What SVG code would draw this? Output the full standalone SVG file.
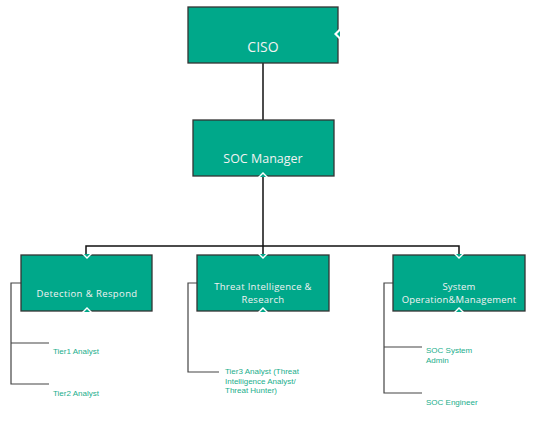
<svg xmlns="http://www.w3.org/2000/svg" width="545" height="422" viewBox="0 0 545 422">
<style>
.box{fill:#00a88a;stroke:#333;stroke-width:1.3}
.t{font-family:"Open Sans","Noto Sans",sans-serif;fill:#f2f2f2;text-anchor:middle}
.s{font-family:"Liberation Sans",Arial,sans-serif;font-size:8px;fill:#1aae8c}
.c{fill:none;stroke:#111;stroke-width:1.5}
.c2{fill:none;stroke:#444;stroke-width:1.2}
.nw{fill:#fff}
.nt{fill:#00a88a}
</style>
<rect width="545" height="422" fill="#fff"/>
<g id="connectors">
<path class="c" d="M263 63V120"/>
<path class="c" d="M263 176V246M86 255V246H459V255M263 246V255"/>
<path class="c2" d="M21 283H11V384H49M11 343H49"/>
<path class="c2" d="M197 283H188V372H219"/>
<path class="c2" d="M393 283H384V393H422M384 347H422"/>
</g>
<g id="ciso">
<rect class="box" x="188" y="7" width="150" height="56"/>
<path class="nw" d="M339 29L334 34L339 39Z"/>
<path class="nt" d="M340 31L337 34L340 37Z"/>
<text class="t" x="263" y="52" font-size="14">CISO</text>
</g>
<g id="soc-manager">
<rect class="box" x="193" y="120" width="141" height="56"/>
<path class="nw" d="M258 177L263 172L268 177Z"/>
<path class="nt" d="M260 177L263 174L266 177Z"/>
<text class="t" x="263" y="163" font-size="12.5">SOC Manager</text>
</g>
<g id="detection">
<rect class="box" x="21" y="255" width="131" height="56"/>
<path class="nw" d="M82 254L87 259L92 254Z"/>
<path class="nt" d="M84 254L87 257L90 254Z"/>
<path class="nw" d="M82 312L87 307L92 312Z"/>
<path class="nt" d="M84 312L87 309L90 312Z"/>
<text class="t" x="87" y="297" font-size="9.5" letter-spacing="0.4">Detection &amp; Respond</text>
</g>
<g id="threat">
<rect class="box" x="197" y="255" width="132" height="56"/>
<path class="nw" d="M258 254L263 259L268 254Z"/>
<path class="nt" d="M260 254L263 257L266 254Z"/>
<path class="nw" d="M258 312L263 307L268 312Z"/>
<path class="nt" d="M260 312L263 309L266 312Z"/>
<text class="t" x="263" y="290" font-size="9.5" letter-spacing="0.3">Threat Intelligence &amp;</text>
<text class="t" x="263" y="303" font-size="9.5" letter-spacing="0.3">Research</text>
</g>
<g id="system">
<rect class="box" x="393" y="255" width="132" height="56"/>
<path class="nw" d="M454 254L459 259L464 254Z"/>
<path class="nt" d="M456 254L459 257L462 254Z"/>
<path class="nw" d="M454 312L459 307L464 312Z"/>
<path class="nt" d="M456 312L459 309L462 312Z"/>
<text class="t" x="459" y="290" font-size="9.5" letter-spacing="0.2">System</text>
<text class="t" x="459" y="303" font-size="9.5" letter-spacing="0.2">Operation&amp;Management</text>
</g>
<g id="tier1"><text class="s" x="53" y="354">Tier1 Analyst</text></g>
<g id="tier2"><text class="s" x="53" y="396">Tier2 Analyst</text></g>
<g id="tier3"><text class="s" x="225" y="374">Tier3 Analyst (Threat</text><text class="s" x="225" y="383.5">Intelligence Analyst/</text><text class="s" x="225" y="393">Threat Hunter)</text></g>
<g id="soc-admin"><text class="s" x="426" y="353">SOC System</text><text class="s" x="426" y="363">Admin</text></g>
<g id="soc-engineer"><text class="s" x="426" y="405">SOC Engineer</text></g>
</svg>
